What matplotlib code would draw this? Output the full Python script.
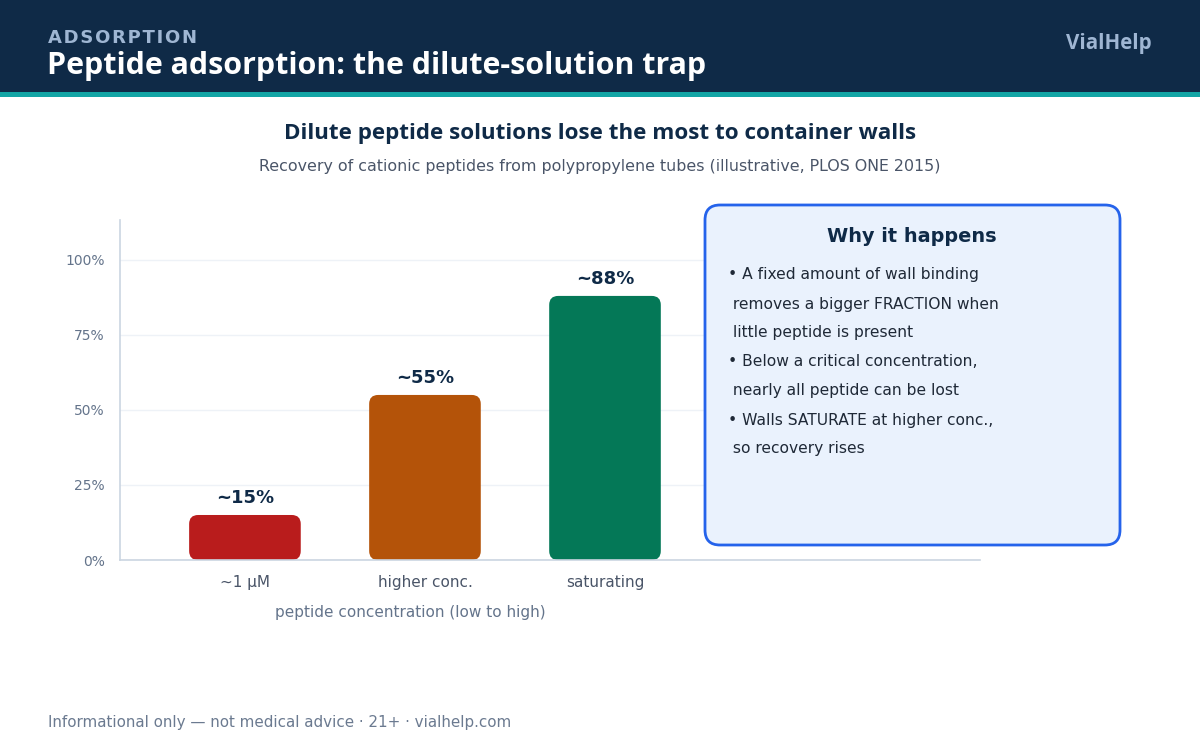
import matplotlib
matplotlib.use("Agg")
import matplotlib.pyplot as plt
from matplotlib.patches import FancyBboxPatch, Rectangle

# ---- data ----
categories = ["~1 µM", "higher conc.", "saturating"]
recovery = [15, 55, 88]
bar_colors = ["#b91c1c", "#b45309", "#047857"]
y_ticks = [0, 25, 50, 75, 100]
y_tick_labels = ["0%", "25%", "50%", "75%", "100%"]
bullets = [
    "• A fixed amount of wall binding",
    " removes a bigger FRACTION when",
    " little peptide is present",
    "• Below a critical concentration,",
    " nearly all peptide can be lost",
    "• Walls SATURATE at higher conc.,",
    " so recovery rises",
]

NAVY = "#0f2a47"
TEAL = "#13a5a5"
HEAD_FONT = "Open Sans"

fig = plt.figure(figsize=(12, 7.5), dpi=100)
fig.patch.set_facecolor("white")


def pixel_axes(z):
    a = fig.add_axes([0, 0, 1, 1], zorder=z)
    a.set_xlim(0, 1200)
    a.set_ylim(750, 0)
    a.axis("off")
    a.patch.set_alpha(0)
    return a


# background overlay in pixel coordinates
ov = pixel_axes(0)
ov.add_patch(Rectangle((0, 0), 1200, 92, color=NAVY, lw=0))
ov.add_patch(Rectangle((0, 92), 1200, 5, color=TEAL, lw=0))
ov.text(48, 38, "\u200a".join("ADSORPTION"), color="#9fb6d3", fontsize=13,
        fontweight="bold", va="center", ha="left", family="DejaVu Sans")
ov.text(47, 66, "Peptide adsorption: the dilute-solution trap", color="white",
        fontsize=21.9, fontweight="bold", va="center", ha="left", family=HEAD_FONT)
ov.text(1152, 44, "VialHelp", color="#9fb6d3", fontsize=14.8, fontweight="bold",
        va="center", ha="right", family=HEAD_FONT)

ov.text(600, 133, "Dilute peptide solutions lose the most to container walls",
        color=NAVY, fontsize=16.1, fontweight="bold", ha="center", va="center",
        family=HEAD_FONT)
ov.text(600, 167, "Recovery of cationic peptides from polypropylene tubes (illustrative, PLOS ONE 2015)",
        color="#4a5568", fontsize=11.4, ha="center", va="center")

ov.text(48, 722, "Informational only — not medical advice · 21+ · vialhelp.com",
        color="#6b7a90", fontsize=10.9, ha="left", va="center")

# ---- main chart ----
ax = fig.add_axes([120 / 1200, 190 / 750, 860 / 1200, 340 / 750], zorder=1)
ax.patch.set_alpha(0)
x = list(range(len(categories)))
width = 0.62
ax.set_xlim(-0.694, 4.083)
ax.set_ylim(0, 113.3)
for xi, v, c in zip(x, recovery, bar_colors):
    ax.add_patch(FancyBboxPatch((xi - width / 2, 0), width, v,
                                boxstyle="round,pad=0,rounding_size=0.05",
                                mutation_aspect=60, facecolor=c, edgecolor="none"))
    ax.annotate(f"~{v}%", (xi, v), xytext=(0, 6), textcoords="offset points",
                ha="center", va="bottom", fontsize=13, fontweight="bold", color=NAVY)

ax.set_yticks(y_ticks)
ax.set_yticklabels(y_tick_labels, color="#64748b", fontsize=10)
ax.set_xticks(x)
ax.set_xticklabels(categories, color="#4a5568", fontsize=11)
ax.tick_params(axis="both", length=0)
ax.tick_params(axis="y", pad=11)
ax.tick_params(axis="x", pad=11)
ax.grid(axis="y", color="#eef2f7", lw=1)
ax.set_axisbelow(True)
for s in ["top", "right"]:
    ax.spines[s].set_visible(False)
for s in ["left", "bottom"]:
    ax.spines[s].set_color("#cbd5e1")
    ax.spines[s].set_linewidth(1.2)
ax.set_xlabel("peptide concentration (low to high)", color="#64748b", fontsize=11)
ax.xaxis.set_label_coords((410 - 120) / 860, -(613 - 560) / 340)
ax.xaxis.label.set_va("center")

# explanation box (above chart)
fg = pixel_axes(2)
fg.add_patch(FancyBboxPatch((705, 205), 415, 340,
                            boxstyle="round,pad=0,rounding_size=15",
                            facecolor="#eaf2fd", edgecolor="#2563eb", lw=2))
fg.text(912, 237, "Why it happens", color=NAVY, fontsize=13.9, fontweight="bold",
        ha="center", va="center")
for k, line in enumerate(bullets):
    fg.text(728, 275 + 29 * k, line, color="#1f2937", fontsize=11.2,
            ha="left", va="center")

fig.savefig("out.png", dpi=100, facecolor="white")
